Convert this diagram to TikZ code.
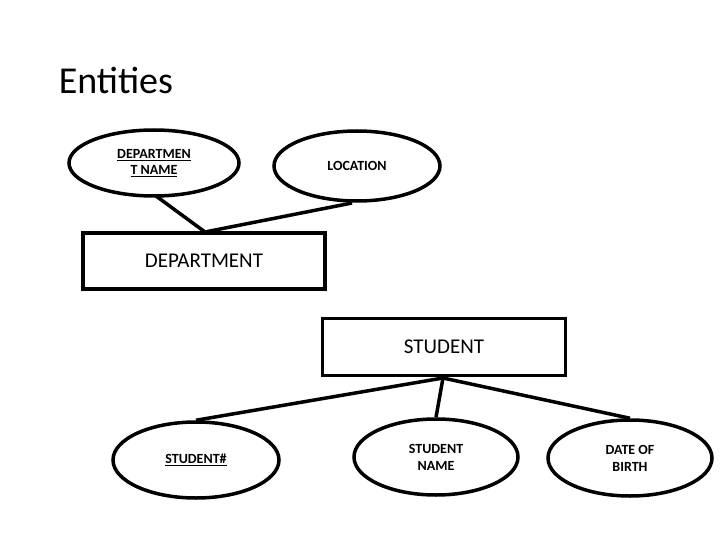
\documentclass[tikz,border=0pt]{standalone}
\usepackage{fontspec}
\setmainfont{Carlito}
\usetikzlibrary{shapes.geometric}
\begin{document}
\begin{tikzpicture}[x=1pt,y=-1pt,line width=3.5pt,
  attr/.style={draw,ellipse,minimum width=#1,align=center,font=\bfseries\fontsize{14}{17}\selectfont,inner sep=0pt},
  ent/.style={draw,rectangle,inner sep=0pt,font=\fontsize{21}{24}\selectfont}]
\useasboundingbox (0,0) rectangle (720,540);
\node[anchor=base west,font=\fontsize{38}{44}\selectfont,inner sep=0pt] (title) at (57,94) {Entities};
\node[attr=170pt,minimum height=66pt] (dn) at (154,163) {\underline{DEPARTMEN}\\[-1pt]\underline{T NAME}};
\node[attr=166pt,minimum height=70pt] (loc) at (357,166) {LOCATION};
\node[ent,minimum width=242pt,minimum height=56pt] (dep) at (204,261) {DEPARTMENT};
\node[ent,minimum width=243pt,minimum height=57pt] (stu) at (444,347) {STUDENT};
\node[attr=166pt,minimum height=76pt] (sid) at (196,460) {\underline{STUDENT\#}};
\node[attr=164pt,minimum height=76pt] (sn) at (436,457) {STUDENT\\NAME};
\node[attr=164pt,minimum height=76pt] (dob) at (630,458) {DATE OF\\BIRTH};
\coordinate (dtop) at (205,232);
\coordinate (sbot) at (443,378);
\draw (dn.south) ++(0,1) coordinate (a) (156,196) -- (dtop);
\draw (352,203) -- (dtop);
\draw (sbot) -- (sid.north);
\draw (sbot) -- (sn.north);
\draw (sbot) -- (dob.north);
\end{tikzpicture}
\end{document}
